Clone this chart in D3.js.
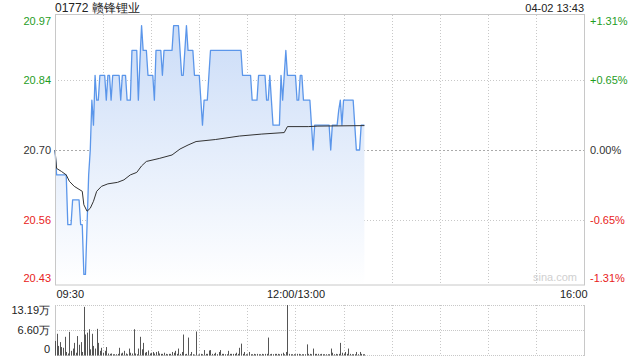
<!DOCTYPE html>
<html><head><meta charset="utf-8">
<script src="https://cdn.jsdelivr.net/npm/d3@7"></script>
<style>
html,body{margin:0;padding:0;background:#fff;}
svg{display:block;font-family:"Liberation Sans",Arial,sans-serif;}
</style></head>
<body>
<svg id="c" width="640" height="360"></svg>
<script>
// ---------- data ----------
const title = "01772 赣锋锂业";
const stamp = "04-02 13:43";
const prevClose = 20.70;
const pctRange = 0.0131;
const priceTicks = [20.97, 20.84, 20.70, 20.56, 20.43];
const pctTicks = ["+1.31%", "+0.65%", "0.00%", "-0.65%", "-1.31%"];
const timeTickMinutes = [0, 150, 330];
const timeTickLabels = ["09:30", "12:00/13:00", "16:00"];
const volTicks = [13.19, 6.60, 0];
const volTickLabels = ["13.19万", "6.60万", "0"];

// minute-by-minute last price (09:30 .. 13:43)
const price = [
 20.70,20.65,20.65,20.65,20.65,20.65,20.65,20.65,20.55,20.55,
 20.55,20.60,20.60,20.60,20.60,20.60,20.55,20.55,20.45,20.45,
 20.55,20.65,20.70,20.80,20.75,20.85,20.80,20.80,20.85,20.85,
 20.85,20.85,20.80,20.85,20.85,20.80,20.85,20.85,20.85,20.85,
 20.85,20.80,20.85,20.85,20.85,20.80,20.80,20.80,20.90,20.90,
 20.90,20.90,20.80,20.88,20.95,20.90,20.90,20.90,20.85,20.85,
 20.85,20.85,20.80,20.90,20.90,20.90,20.90,20.85,20.90,20.90,
 20.90,20.90,20.90,20.90,20.95,20.95,20.95,20.95,20.90,20.85,
 20.85,20.90,20.95,20.90,20.90,20.90,20.90,20.85,20.85,20.85,
 20.85,20.80,20.75,20.80,20.80,20.80,20.85,20.90,20.90,20.90,
 20.90,20.90,20.90,20.90,20.90,20.90,20.90,20.90,20.90,20.90,
 20.90,20.90,20.90,20.90,20.90,20.90,20.90,20.85,20.85,20.85,
 20.85,20.85,20.85,20.80,20.80,20.80,20.80,20.85,20.85,20.85,
 20.85,20.85,20.80,20.80,20.85,20.80,20.75,20.75,20.75,20.75,
 20.75,20.85,20.80,20.85,20.90,20.85,20.85,20.85,20.85,20.85,
 20.85,20.80,20.80,20.85,20.85,20.80,20.80,20.80,20.80,20.80,
 20.75,20.70,20.75,20.75,20.75,20.75,20.75,20.75,20.75,20.75,
 20.75,20.75,20.70,20.75,20.75,20.75,20.75,20.78,20.80,20.75,
 20.80,20.80,20.80,20.80,20.80,20.80,20.80,20.75,20.70,20.70,
 20.70,20.75,20.75,20.75
];

// average price line, read at these minutes
const avgMinute = [0,1,4,7,9,12,17,18,20,22,24,26,29,33,39,43,47,51,54,57,65,73,78,83,88,100,115,129,143,145,158,164,193];
const avgPrice  = [20.700,20.663,20.657,20.650,20.637,20.627,20.617,20.590,20.577,20.583,20.597,20.617,20.627,20.632,20.635,20.640,20.650,20.655,20.668,20.677,20.683,20.690,20.702,20.710,20.717,20.721,20.728,20.732,20.735,20.747,20.747,20.748,20.749];

// minute volume (万)
const volume = [
 3.7,5.6,2.4,3.4,2.1,1.9,4.8,0.8,0.4,6.1,
 1.1,1.7,3.2,0.6,5.0,2.7,3.4,0.8,12.7,5.4,
 5.9,6.8,1.5,5.6,2.4,1.7,6.9,3.2,1.1,1.9,
 0.6,1.1,2.1,0.4,0.3,0.4,0.2,0.2,0.2,0.3,
 1.9,0.4,0.6,1.1,0.4,0.2,1.7,0.6,0.4,6.8,
 0.4,0.2,1.7,4.8,1.5,3.2,0.6,0.8,1.2,0.4,
 0.6,0.8,0.4,0.8,1.0,0.4,0.3,0.3,0.6,0.3,
 0.2,0.3,0.3,0.8,0.6,1.1,0.3,1.7,0.3,0.8,
 5.4,0.2,0.3,4.6,0.2,0.8,0.2,0.1,6.2,0.1,
 0.2,0.3,0.2,1.3,0.3,0.3,1.2,1.3,0.3,0.3,
 0.6,0.2,0.8,1.3,0.3,0.3,0.2,0.2,1.1,0.3,
 0.3,0.3,0.3,0.6,0.3,1.9,3.0,0.3,0.8,0.2,
 0.2,0.8,0.2,0.2,0.3,0.2,0.3,0.2,0.2,0.3,
 0.2,0.3,0.3,4.6,0.2,0.3,0.2,0.3,0.3,0.3,
 0.2,0.3,0.6,0.2,0.8,13.19,0.3,0.2,0.2,0.2,
 0.2,0.3,0.3,0.2,0.2,0.2,0.2,2.8,0.3,0.3,
 0.2,1.7,0.3,0.3,0.3,0.2,0.3,0.2,0.2,0.2,
 0.2,0.2,1.7,0.6,0.2,0.3,0.2,0.3,3.2,0.6,
 0.3,0.8,0.3,1.7,0.3,0.2,0.2,0.2,0.8,0.2,
 0.8,0.3,0.2,0.2
];

// ---------- drawing ----------
const svg = d3.select("#c");
const L = 55, R = 584, T = 15, B = 285;
const VT = 305, VB = 355;

const x = d3.scaleLinear().domain([0, 330]).range([L, R]);
const y = d3.scaleLinear().domain([prevClose*(1-pctRange), prevClose*(1+pctRange)]).range([B, T]);
const yv = d3.scaleLinear().domain([0, volTicks[0]]).range([VB, VT]);

const green = "#1f9d1f", red = "#e8221b", grey = "#333";
const colorFor = v => Math.abs(v - prevClose) < 1e-6 ? grey : (v > prevClose ? green : red);

// gradient
const defs = svg.append("defs");
const g1 = defs.append("linearGradient").attr("id","fillg").attr("x1",0).attr("y1",0).attr("x2",0).attr("y2",1)
  .attr("gradientUnits","userSpaceOnUse").attr("y1",T).attr("y2",B).attr("x1",0).attr("x2",0);
g1.append("stop").attr("offset","0%").attr("stop-color","#c9dbf7");
g1.append("stop").attr("offset","100%").attr("stop-color","#ffffff");

// vertical grid lines (every 30 min)
const vgrid = d3.range(30, 330, 30);
svg.append("g").selectAll("line").data(vgrid).join("line")
  .attr("x1", d => Math.round(x(d)) + 0.5).attr("x2", d => Math.round(x(d)) + 0.5)
  .attr("y1", T).attr("y2", B)
  .attr("stroke", "#c8c8c8").attr("stroke-dasharray", "1,2");
svg.append("g").selectAll("line").data(vgrid).join("line")
  .attr("x1", d => Math.round(x(d)) + 0.5).attr("x2", d => Math.round(x(d)) + 0.5)
  .attr("y1", VT).attr("y2", VB)
  .attr("stroke", "#c8c8c8").attr("stroke-dasharray", "1,2");

// horizontal grid lines
const hgrid = [priceTicks[1], priceTicks[3]];
svg.append("g").selectAll("line").data(hgrid).join("line")
  .attr("x1", L).attr("x2", R)
  .attr("y1", d => Math.round(y(d)) + 0.5).attr("y2", d => Math.round(y(d)) + 0.5)
  .attr("stroke", "#c8c8c8").attr("stroke-dasharray", "1,2");
svg.append("line").attr("x1", L).attr("x2", R)
  .attr("y1", Math.round(y(prevClose)) + 0.5).attr("y2", Math.round(y(prevClose)) + 0.5)
  .attr("stroke", "#aaa").attr("stroke-dasharray", "2,2");

// area + price line
const idx = d3.range(price.length);
const area = d3.area().x(i => x(i)).y0(B).y1(i => y(price[i]));
svg.append("path").datum(idx).attr("d", area).attr("fill", "url(#fillg)");
const line = d3.line().x(i => x(i)).y(i => y(price[i]));
svg.append("path").datum(idx).attr("d", line).attr("fill", "none")
  .attr("stroke", "#5b96ea").attr("stroke-width", 1.3).attr("stroke-linejoin","round");

// average line
const avgLine = d3.line().x((d,k) => x(avgMinute[k])).y((d,k) => y(avgPrice[k]));
svg.append("path").datum(avgPrice).attr("d", avgLine).attr("fill", "none")
  .attr("stroke", "#333").attr("stroke-width", 1);

// main border
svg.append("rect").attr("x", L + 0.5).attr("y", T - 0.5).attr("width", R - L).attr("height", B - T + 0.5)
  .attr("fill", "none").attr("stroke", "#c8c8c8");

// watermark
svg.append("text").attr("x", R - 7).attr("y", B - 4).attr("text-anchor", "end")
  .attr("font-size", 11).attr("fill", "#d0d0d0").text("sina.com");

// left price axis
const yAxisL = d3.axisLeft(y).tickValues(priceTicks).tickFormat(d3.format(".2f")).tickSize(0).tickPadding(4);
const gl = svg.append("g").attr("transform", `translate(${L},0)`).call(yAxisL);
gl.select(".domain").remove();
gl.selectAll("text").attr("font-size", 11).attr("font-family", "Liberation Sans, Arial, sans-serif")
  .attr("fill", d => colorFor(d))
  .attr("dy", (d,i) => i === 0 ? "0.85em" : (i === priceTicks.length - 1 ? "-0.25em" : "0.32em"));

// right pct axis
const yAxisR = d3.axisRight(y).tickValues(priceTicks).tickFormat((d,i) => pctTicks[i]).tickSize(0).tickPadding(6);
const gr = svg.append("g").attr("transform", `translate(${R},0)`).call(yAxisR);
gr.select(".domain").remove();
gr.selectAll("text").attr("font-size", 11).attr("font-family", "Liberation Sans, Arial, sans-serif")
  .attr("fill", d => colorFor(d))
  .attr("dy", (d,i) => i === 0 ? "0.85em" : (i === priceTicks.length - 1 ? "-0.25em" : "0.32em"));

// time axis
const xAxis = d3.axisBottom(x).tickValues(timeTickMinutes).tickFormat((d,i) => timeTickLabels[i]).tickSize(0).tickPadding(5);
const gx = svg.append("g").attr("transform", `translate(0,${B})`).call(xAxis);
gx.select(".domain").remove();
gx.selectAll("text").attr("font-size", 11).attr("font-family", "Liberation Sans, Arial, sans-serif").attr("fill", "#222")
  .attr("text-anchor", (d,i) => i === 0 ? "start" : (i === timeTickMinutes.length - 1 ? "end" : "middle"))
  .attr("dx", (d,i) => i === 0 ? 1 : (i === timeTickMinutes.length - 1 ? 3 : 0));

// volume grid (dotted top/mid/bottom)
svg.append("g").selectAll("line").data(volTicks).join("line")
  .attr("x1", L).attr("x2", R)
  .attr("y1", d => Math.round(yv(d)) + 0.5).attr("y2", d => Math.round(yv(d)) + 0.5)
  .attr("stroke", "#c8c8c8").attr("stroke-dasharray", "1,1");
svg.append("line").attr("x1", L + 0.5).attr("x2", L + 0.5).attr("y1", VT).attr("y2", VB + 1).attr("stroke", "#c8c8c8");
svg.append("line").attr("x1", R + 0.5).attr("x2", R + 0.5).attr("y1", VT).attr("y2", VB + 1).attr("stroke", "#c8c8c8");

// volume bars
svg.append("g").selectAll("rect").data(volume).join("rect")
  .attr("x", (d,i) => Math.round(x(i)) + 0.0)
  .attr("width", 1)
  .attr("y", d => yv(d))
  .attr("height", d => VB - yv(d) + 0.5)
  .attr("fill", "#555");

// volume axis
const vAxis = d3.axisLeft(yv).tickValues(volTicks).tickFormat((d,i) => volTickLabels[i]).tickSize(0).tickPadding(5);
const gv = svg.append("g").attr("transform", `translate(${L},0)`).call(vAxis);
gv.select(".domain").remove();
gv.selectAll("text").attr("font-size", 11).attr("font-family", "Liberation Sans, Arial, sans-serif").attr("fill", "#222")
  .attr("dy", (d,i) => i === 0 ? "0.75em" : (i === volTicks.length - 1 ? "-0.25em" : "0.32em"));

// title and timestamp
svg.append("text").attr("x", L).attr("y", 12).attr("font-size", 12).attr("fill", "#222").text(title);
svg.append("text").attr("x", R).attr("y", 12).attr("text-anchor", "end").attr("font-size", 11).attr("fill", "#222").text(stamp);
</script>
</body></html>
